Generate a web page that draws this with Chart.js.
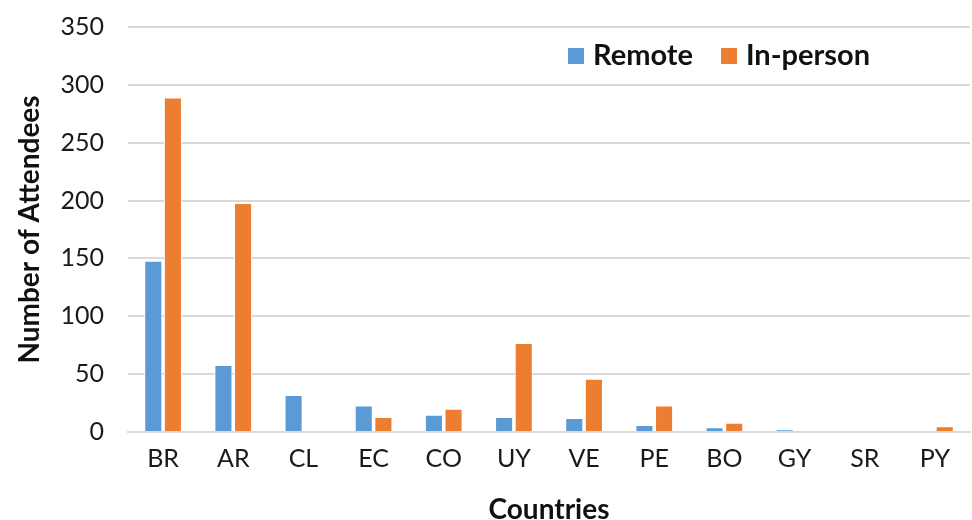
<!DOCTYPE html>
<html>
<head>
<meta charset="utf-8">
<script src="https://cdn.jsdelivr.net/npm/chart.js@4.4.0/dist/chart.umd.min.js"></script>
<style>
  html, body { margin: 0; padding: 0; background: #fff; }
  #wrap { position: relative; width: 972px; height: 520px; }
  #legend { position: absolute; left: 568px; top: 36px; font: bold 29px Lato, "Open Sans", sans-serif; color: #111; display: flex; gap: 28px; }
  #legend span.sw { display: inline-block; width: 16px; height: 16px; margin-right: 9px; vertical-align: 1px; }
</style>
</head>
<body>
<div id="wrap">
  <canvas id="myChart" width="972" height="520"></canvas>
  <div id="legend"></div>
</div>
<script>
// dane wykresu
const countries = ["BR", "AR", "CL", "EC", "CO", "UY", "VE", "PE", "BO", "GY", "SR", "PY"];
const remote = [148, 58, 32, 23, 15, 13, 12, 6, 4, 2, 0, 0];
const inPerson = [289, 198, 0, 13, 20, 77, 46, 23, 8, 0, 0, 5];
const seriesNames = ["Remote", "In-person"];
const seriesColors = ["#5B9BD5", "#ED7D31"];

const fontFamily = 'Lato, "Open Sans", sans-serif';

const ctx = document.getElementById('myChart').getContext('2d');
const chart = new Chart(ctx, {
  type: 'bar',
  data: {
    labels: countries,
    datasets: [remote, inPerson].map(function (vals, i) {
      return {
        label: seriesNames[i],
        data: vals,
        backgroundColor: seriesColors[i],
        borderColor: '#ffffff',
        borderWidth: 1,
        categoryPercentage: 0.56,
        barPercentage: 0.92
      };
    })
  },
  options: {
    responsive: false,
    animation: false,
    layout: { padding: { top: 27, right: 2, left: 0, bottom: 0 } },
    plugins: { legend: { display: false }, tooltip: { enabled: false } },
    scales: {
      x: {
        grid: { display: false },
        border: { color: '#D9D9D9', width: 2 },
        ticks: { color: '#1a1a1a', font: { family: fontFamily, size: 25 }, padding: 4 },
        title: { display: true, text: 'Countries', color: '#111', font: { family: fontFamily, size: 28, weight: 'bold', lineHeight: 1 }, padding: { top: 4, bottom: -4 } },
        afterFit: function (s) { s.height = 88; }
      },
      y: {
        min: 0, max: 350,
        ticks: { stepSize: 50, color: '#1a1a1a', font: { family: fontFamily, size: 25 }, padding: 24 },
        grid: { color: '#D9D9D9', lineWidth: 2, drawTicks: false },
        border: { display: false },
        title: { display: true, text: 'Number of Attendees', color: '#111', font: { family: fontFamily, size: 28, weight: 'bold' }, padding: { top: 13, bottom: 0 } },
        afterFit: function (s) { s.width = 128; s.paddingTop = 0; s.paddingBottom = 0; }
      }
    }
  }
});

// legenda w HTML
const legendEl = document.getElementById('legend');
chart.data.datasets.forEach(function (ds) {
  const item = document.createElement('div');
  item.innerHTML = '<span class="sw" style="background:' + ds.backgroundColor + '"></span>' + ds.label;
  legendEl.appendChild(item);
});
</script>
</body>
</html>
